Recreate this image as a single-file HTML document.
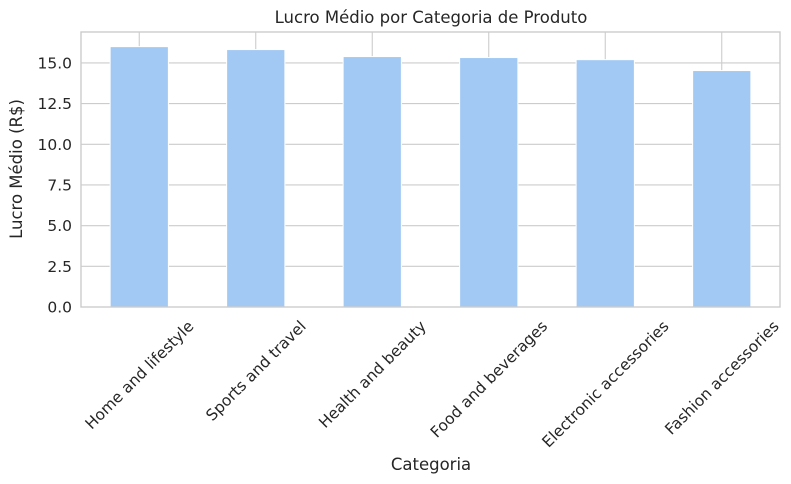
<!DOCTYPE html>
<html><head><meta charset="utf-8"><style>
body{margin:0;background:#fff}
svg{display:block;font-family:"DejaVu Sans","Liberation Sans",sans-serif;fill:#262626}
</style></head><body>
<svg id="c" width="791" height="484">
<text x="431" y="23" font-size="16.5" text-anchor="middle">Lucro Médio por Categoria de Produto</text>
<text x="431" y="470" font-size="16.5" text-anchor="middle">Categoria</text>
<text transform="translate(22,169) rotate(-90)" font-size="16.5" text-anchor="middle">Lucro Médio (R$)</text>
</svg>
<script>
const categories=["Home and lifestyle","Sports and travel","Health and beauty","Food and beverages","Electronic accessories","Fashion accessories"];
const values=[16.0,15.82,15.39,15.33,15.2,14.53];
const yTicks=[0,2.5,5,7.5,10,12.5,15];
const yTickLabels=["0.0","2.5","5.0","7.5","10.0","12.5","15.0"];
const NS="http://www.w3.org/2000/svg";
const svg=document.getElementById('c');
const L=81,R=780,T=32,B=307,yMax=16.9;
const y=v=>B-(v/yMax)*(B-T);
const band=(R-L)/categories.length;
const x=i=>L+band*(i+0.5);
function mk(t,a,p){const e=document.createElementNS(NS,t);for(const k in a)e.setAttribute(k,a[k]);(p||svg).appendChild(e);return e;}
const bg=mk('g',{});


yTicks.forEach((v,i)=>{
  mk('line',{x1:L,x2:R,y1:y(v),y2:y(v),stroke:'#cccccc','stroke-width':1.1},bg);
  const t=mk('text',{x:L-9,y:y(v)+5.5,'font-size':15.5,'text-anchor':'end'});
  t.textContent=yTickLabels[i];
  
  
});
categories.forEach((c,i)=>{
  mk('line',{x1:x(i),x2:x(i),y1:T,y2:B,stroke:'#cccccc','stroke-width':1.1},bg);
});
values.forEach((v,i)=>{
  const w=band*0.5;
  const r=mk('rect',{x:x(i)-w/2,y:y(v),width:w,height:B-y(v),fill:'#a1c9f4',stroke:'#ffffff','stroke-width':1});
  
  
});
const fr=mk('rect',{x:L,y:T,width:R-L,height:B-T,fill:'none',stroke:'#cccccc','stroke-width':1.4});


categories.forEach((c,i)=>{
  const t=mk('text',{'font-size':15.5,'text-anchor':'middle'});
  t.textContent=c;
  
  
  const w=t.getComputedTextLength();
  const cy=318+(w+15)*0.707/2;
  t.setAttribute('x',x(i));t.setAttribute('y',cy+5.5);
  t.setAttribute('transform','rotate(-45 '+x(i)+' '+cy+')');
});
</script>
</body></html>
